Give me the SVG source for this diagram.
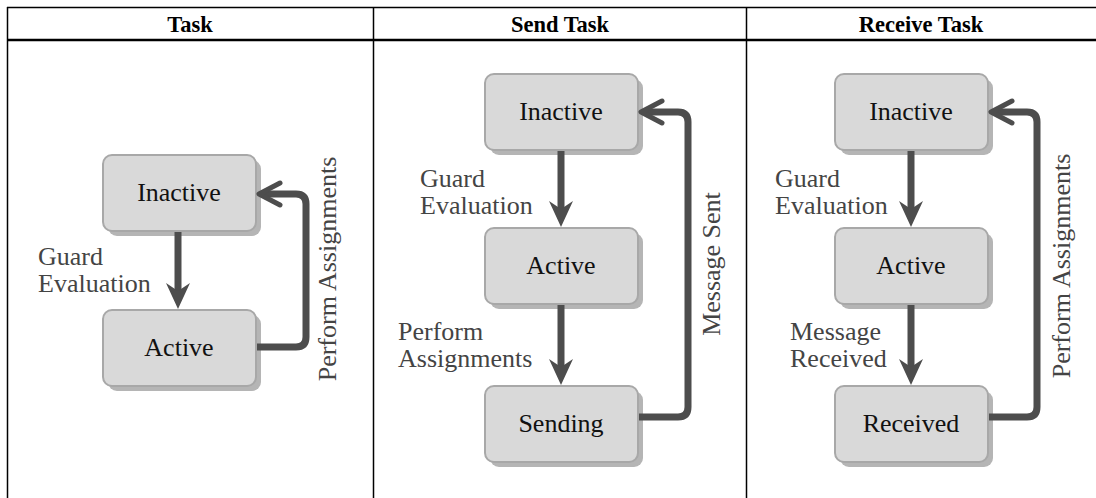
<svg xmlns="http://www.w3.org/2000/svg" width="1096" height="498" viewBox="0 0 1096 498">
<style>
.hdr{font-weight:bold;font-size:22.5px;fill:#000;text-anchor:middle}
.ntx{font-size:26px;fill:#111;text-anchor:middle}
.lbl{font-size:26px;fill:#444}
.box{fill:#d9d9d9;stroke:#a8a8a8;stroke-width:2}
.shd{fill:#b5b5b5}
.grid{stroke:#000;fill:none}
.wire{stroke:#4d4d4d;stroke-width:7;fill:none}
.head{fill:#4d4d4d}
.chev{stroke:#4d4d4d;stroke-width:5;fill:none;stroke-linecap:round;stroke-linejoin:round}
</style>
<rect width="1096" height="498" fill="#fff"/>
<g font-family="'Liberation Serif', 'DejaVu Serif', serif">
<g id="table">
<line class="grid" x1="7" y1="7.5" x2="1096" y2="7.5" stroke-width="1.5"/>
<line class="grid" x1="7" y1="40" x2="1096" y2="40" stroke-width="2.5"/>
<line class="grid" x1="7.5" y1="7" x2="7.5" y2="498" stroke-width="1.5"/>
<line class="grid" x1="373.5" y1="7" x2="373.5" y2="498" stroke-width="1.5"/>
<line class="grid" x1="746.5" y1="7" x2="746.5" y2="498" stroke-width="1.5"/>
<text class="hdr" x="190" y="32">Task</text>
<text class="hdr" x="560" y="32">Send Task</text>
<text class="hdr" x="921" y="32">Receive Task</text>
</g>

<g id="task-inactive"><rect class="shd" x="108" y="160" width="153" height="76" rx="9"/><rect class="box" x="103" y="155" width="153" height="76" rx="9"/><text class="ntx" x="179" y="201">Inactive</text></g>
<g id="task-active"><rect class="shd" x="108" y="315" width="153" height="76" rx="9"/><rect class="box" x="103" y="310" width="153" height="76" rx="9"/><text class="ntx" x="179" y="356">Active</text></g>

<g id="send-inactive"><rect class="shd" x="490" y="79" width="153" height="76" rx="9"/><rect class="box" x="485" y="74" width="153" height="76" rx="9"/><text class="ntx" x="561" y="120">Inactive</text></g>
<g id="send-active"><rect class="shd" x="490" y="233" width="153" height="76" rx="9"/><rect class="box" x="485" y="228" width="153" height="76" rx="9"/><text class="ntx" x="561" y="274">Active</text></g>
<g id="send-sending"><rect class="shd" x="490" y="391" width="153" height="76" rx="9"/><rect class="box" x="485" y="386" width="153" height="76" rx="9"/><text class="ntx" x="561" y="432">Sending</text></g>

<g id="recv-inactive"><rect class="shd" x="840" y="79" width="153" height="76" rx="9"/><rect class="box" x="835" y="74" width="153" height="76" rx="9"/><text class="ntx" x="911" y="120">Inactive</text></g>
<g id="recv-active"><rect class="shd" x="840" y="233" width="153" height="76" rx="9"/><rect class="box" x="835" y="228" width="153" height="76" rx="9"/><text class="ntx" x="911" y="274">Active</text></g>
<g id="recv-received"><rect class="shd" x="840" y="391" width="153" height="76" rx="9"/><rect class="box" x="835" y="386" width="153" height="76" rx="9"/><text class="ntx" x="911" y="432">Received</text></g>

<g id="connectors">
<line class="wire" x1="178" y1="232" x2="178" y2="292"/>
<path class="head" d="M178,309 L166,283 L178,291 L190,283 Z"/>
<path class="wire" d="M257,347 H296 Q306,347 306,337 V204 Q306,194 296,194 H262"/>
<path class="chev" d="M280,183 L259,194 L280,205"/>
<line class="wire" x1="561" y1="151" x2="561" y2="211"/>
<path class="head" d="M561,227 L549,201 L561,209 L573,201 Z"/>
<line class="wire" x1="561" y1="305" x2="561" y2="369"/>
<path class="head" d="M561,385 L549,359 L561,367 L573,359 Z"/>
<path class="wire" d="M639,417 H678 Q688,417 688,407 V122 Q688,112 678,112 H644"/>
<path class="chev" d="M662,101 L641,112 L662,123"/>
<line class="wire" x1="911" y1="151" x2="911" y2="211"/>
<path class="head" d="M911,227 L899,201 L911,209 L923,201 Z"/>
<line class="wire" x1="911" y1="305" x2="911" y2="369"/>
<path class="head" d="M911,385 L899,359 L911,367 L923,359 Z"/>
<path class="wire" d="M989,417 H1027 Q1037,417 1037,407 V122 Q1037,112 1027,112 H994"/>
<path class="chev" d="M1012,101 L991,112 L1012,123"/>
</g>

<g id="labels">
<text class="lbl" x="38" y="265">Guard</text>
<text class="lbl" x="38" y="292">Evaluation</text>
<text class="lbl" x="336" y="269" text-anchor="middle" transform="rotate(-90 336 269)">Perform Assignments</text>
<text class="lbl" x="420" y="187">Guard</text>
<text class="lbl" x="420" y="214">Evaluation</text>
<text class="lbl" x="398" y="340">Perform</text>
<text class="lbl" x="398" y="367">Assignments</text>
<text class="lbl" x="720" y="264" text-anchor="middle" transform="rotate(-90 720 264)">Message Sent</text>
<text class="lbl" x="775" y="187">Guard</text>
<text class="lbl" x="775" y="214">Evaluation</text>
<text class="lbl" x="790" y="340">Message</text>
<text class="lbl" x="790" y="367">Received</text>
<text class="lbl" x="1070" y="266" text-anchor="middle" transform="rotate(-90 1070 266)">Perform Assignments</text>
</g>
</g>
</svg>
